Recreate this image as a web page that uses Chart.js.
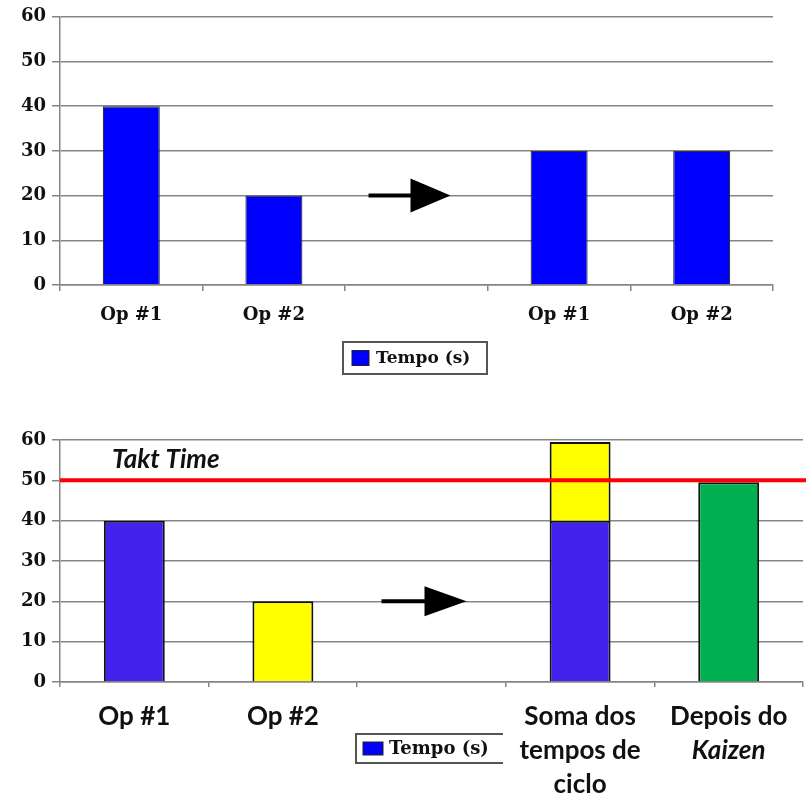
<!DOCTYPE html>
<html lang="pt">
<head>
    <meta charset="UTF-8">
    <title>Tempo de ciclo e Takt Time</title>
    <script src="https://cdn.jsdelivr.net/npm/chart.js"></script>
    <style>
        body { margin: 0; background: #fff; }
        #wrap { position: relative; width: 806px; height: 802px; }
        #topChart { position: absolute; left: 0; top: 0; }
        #bottomChart { position: absolute; left: 0; top: 400px; }
    </style>
</head>
<body>
<div id="wrap">
    <canvas id="topChart" width="806" height="400"></canvas>
    <canvas id="bottomChart" width="806" height="402"></canvas>
</div>
<script>
    // values
    const topLabels = ['Op #1', 'Op #2', '', 'Op #1', 'Op #2'];
    const topTempo = [40, 20, null, 30, 30];

    const bottomLabels = ['Op #1', 'Op #2', '', ['Soma dos', 'tempos de', 'ciclo'], ['Depois do', '']];
    const kaizenWord = 'Kaizen';
    const op1Values = [40, null, null, 40, null];
    const op2Values = [null, 20, null, 19.5, null];
    const kaizenValues = [null, null, null, null, 49.5];
    const taktTime = 50;

    const yMax = 60;
    const yStep = 10;
    const legendLabel = 'Tempo (s)';

    const gridGray = '#858585';
    const serifBold = { family: 'DejaVu Serif', weight: 'bold', size: 18 };

    // arrow between "before" and "after" groups
    const arrowPlugin = {
        id: 'arrow',
        afterDatasetsDraw(chart, args, o) {
            const x = chart.scales.x.getPixelForValue(o.index);
            const y = chart.scales.y.getPixelForValue(o.value);
            const ctx = chart.ctx;
            ctx.save();
            ctx.strokeStyle = '#000';
            ctx.lineWidth = 4;
            ctx.beginPath();
            ctx.moveTo(x + o.tail, y);
            ctx.lineTo(x + o.neck + 2, y);
            ctx.stroke();
            ctx.fillStyle = '#000';
            ctx.beginPath();
            ctx.moveTo(x + o.neck, y - o.half);
            ctx.lineTo(x + o.tip, y);
            ctx.lineTo(x + o.neck, y + o.half);
            ctx.closePath();
            ctx.fill();
            ctx.restore();
        }
    };

    // framed legend like the old spreadsheet one
    const boxLegend = {
        id: 'boxLegend',
        afterDraw(chart, args, o) {
            const ctx = chart.ctx;
            ctx.save();
            ctx.strokeStyle = '#555';
            ctx.lineWidth = 2;
            ctx.beginPath();
            if (o.open) {
                ctx.moveTo(o.x + o.w, o.y);
                ctx.lineTo(o.x, o.y);
                ctx.lineTo(o.x, o.y + o.h);
                ctx.lineTo(o.x + o.w, o.y + o.h);
            } else {
                ctx.rect(o.x, o.y, o.w, o.h);
            }
            ctx.stroke();
            ctx.fillStyle = o.color;
            ctx.fillRect(o.x + o.boxLeft, o.y + (o.h - o.boxH) / 2, o.boxW, o.boxH);
            ctx.strokeStyle = '#222';
            ctx.lineWidth = 1;
            ctx.strokeRect(o.x + o.boxLeft, o.y + (o.h - o.boxH) / 2, o.boxW, o.boxH);
            ctx.fillStyle = '#111';
            ctx.font = 'bold ' + o.size + 'px "DejaVu Serif"';
            ctx.textBaseline = 'middle';
            ctx.fillText(o.text, o.x + o.textLeft, o.y + o.h / 2 + 1);
            ctx.restore();
        }
    };

    const taktPlugin = {
        id: 'takt',
        afterDatasetsDraw(chart, args, o) {
            const y = chart.scales.y.getPixelForValue(o.value);
            const ctx = chart.ctx;
            ctx.save();
            ctx.strokeStyle = '#ff0000';
            ctx.lineWidth = 4;
            ctx.beginPath();
            ctx.moveTo(chart.chartArea.left, y);
            ctx.lineTo(chart.width, y);
            ctx.stroke();
            ctx.fillStyle = '#111';
            ctx.font = 'italic bold 26px Lato';
            ctx.fillText(o.text, chart.chartArea.left + 52, y - 12);
            ctx.restore();
        }
    };

    // second line of the last label is italic, chart.js can't mix styles in one tick
    const italicLine = {
        id: 'italicLine',
        afterDraw(chart, args, o) {
            const xs = chart.scales.x;
            const t = xs.options.ticks;
            const lh = o.lineHeight;
            const x = xs.getPixelForValue(o.index);
            const y = xs.top + xs.options.grid.tickLength + t.padding + lh / 2 + lh * o.line;
            const ctx = chart.ctx;
            ctx.save();
            ctx.fillStyle = '#111';
            ctx.font = 'italic bold ' + t.font.size + 'px Lato';
            ctx.textAlign = 'center';
            ctx.textBaseline = 'middle';
            ctx.fillText(o.text, x, y);
            ctx.restore();
        }
    };

    function yScale() {
        return {
            min: 0,
            max: yMax,
            ticks: { stepSize: yStep, padding: 6, color: '#111', font: serifBold },
            grid: { color: gridGray, lineWidth: 1.5, tickLength: 8 },
            border: { color: gridGray, width: 1.5 },
            afterFit: s => { s.width = 60; }
        };
    }

    new Chart(document.getElementById('topChart'), {
        type: 'bar',
        data: {
            labels: topLabels,
            datasets: [{
                label: legendLabel,
                data: topTempo,
                backgroundColor: '#0000ff',
                borderColor: '#333',
                borderWidth: 1.2,
                barPercentage: 0.4,
                categoryPercentage: 1
            }]
        },
        options: {
            responsive: false,
            animation: false,
            layout: { padding: { top: 16, right: 33, left: 0, bottom: 0 } },
            scales: {
                x: {
                    ticks: { color: '#111', font: serifBold, padding: 14 },
                    grid: { drawOnChartArea: false, color: gridGray, lineWidth: 1.5, tickLength: 6 },
                    border: { color: gridGray, width: 1.5 },
                    afterFit: s => { s.height = 115; }
                },
                y: yScale()
            },
            plugins: {
                legend: { display: false },
                tooltip: { enabled: false },
                arrow: { index: 2, value: 20, tail: -48, neck: -6, tip: 34, half: 17 },
                boxLegend: {
                    x: 343, y: 342, w: 144, h: 32, open: false,
                    boxLeft: 9, boxW: 17, boxH: 15, textLeft: 33,
                    size: 17, text: legendLabel, color: '#0000ff'
                }
            }
        },
        plugins: [arrowPlugin, boxLegend]
    });

    new Chart(document.getElementById('bottomChart'), {
        type: 'bar',
        data: {
            labels: bottomLabels,
            datasets: [{
                label: 'Op #1',
                data: op1Values,
                backgroundColor: '#4422ee'
            }, {
                label: 'Op #2',
                data: op2Values,
                backgroundColor: '#ffff00'
            }, {
                label: 'Depois do Kaizen',
                data: kaizenValues,
                backgroundColor: '#00b050'
            }].map(d => Object.assign(d, {
                borderColor: '#111',
                borderWidth: 2,
                barPercentage: 0.41,
                categoryPercentage: 1
            }))
        },
        options: {
            responsive: false,
            animation: false,
            layout: { padding: { top: 40, right: 3, left: 0, bottom: 0 } },
            scales: {
                x: {
                    stacked: true,
                    ticks: { color: '#111', font: { family: 'Lato', weight: 'bold', size: 26, lineHeight: '34px' }, padding: 13 },
                    grid: { drawOnChartArea: false, color: gridGray, lineWidth: 1.5, tickLength: 5 },
                    border: { color: gridGray, width: 1.5 },
                    afterFit: s => { s.height = 120; }
                },
                y: Object.assign(yScale(), { stacked: true })
            },
            plugins: {
                legend: { display: false },
                tooltip: { enabled: false },
                arrow: { index: 2, value: 20, tail: -50, neck: -7, tip: 35, half: 15 },
                takt: { value: taktTime, text: 'Takt Time' },
                italicLine: { index: 4, line: 1, lineHeight: 34, text: kaizenWord },
                boxLegend: {
                    x: 356, y: 334, w: 147, h: 29, open: true,
                    boxLeft: 7, boxW: 20, boxH: 13, textLeft: 33,
                    size: 18, text: legendLabel, color: '#0000ff'
                }
            }
        },
        plugins: [arrowPlugin, taktPlugin, italicLine, boxLegend]
    });
</script>
</body>
</html>
